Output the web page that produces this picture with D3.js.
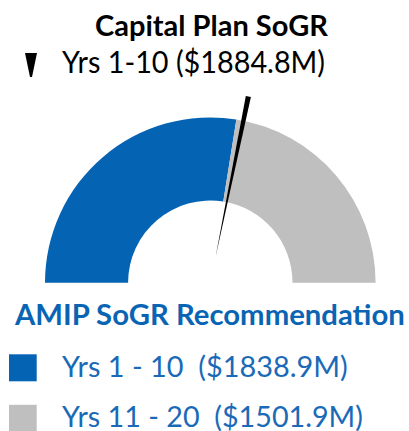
<!doctype html>
<html>
<head>
<script src="https://d3js.org/d3.v7.min.js"></script>
<style>
  body { margin: 0; background: #fff; }
  text { font-family: Lato, "Open Sans", sans-serif; white-space: pre; }
</style>
</head>
<body>
<script>
  // data
  var segLabels = ["Yrs 1 - 10  ($1838.9M)", "Yrs 11 - 20  ($1501.9M)"];
  var segValues = [1838.9, 1501.9];
  var segColors = ["#0563b4", "#bfbfbf"];
  var needleValue = 1884.8;
  var needleLabel = "Yrs 1-10 ($1884.8M)";
  var title = "Capital Plan SoGR";
  var legendTitle = "AMIP SoGR Recommendation";

  var width = 409, height = 431;
  var cx = 210.3, cy = 282.7;
  var rOuter = 165.3, rInner = 82.2;

  var svg = d3.select("body").append("svg")
      .attr("width", width)
      .attr("height", height);

  // squeeze text to the width seen in the picture (narrow font look)
  function fit(sel, target) {
    sel.each(function() {
      var w = this.getComputedTextLength();
      if (w > target) {
        d3.select(this).attr("textLength", target).attr("lengthAdjust", "spacingAndGlyphs");
      } else {
        var fs = parseFloat(d3.select(this).attr("font-size"));
        d3.select(this).attr("font-size", fs * target / w);
      }
    });
    return sel;
  }

  var total = d3.sum(segValues);
  var pie = d3.pie().sort(null)
      .startAngle(-Math.PI / 2).endAngle(Math.PI / 2);
  var arc = d3.arc().innerRadius(rInner).outerRadius(rOuter);

  var g = svg.append("g").attr("transform", "translate(" + cx + "," + cy + ")");
  g.selectAll("path.seg")
    .data(pie(segValues))
    .enter().append("path")
      .attr("class", "seg")
      .attr("d", arc)
      .attr("fill", function(d, i) { return segColors[i]; });

  // needle
  var angle = d3.scaleLinear().domain([0, total]).range([-90, 90]);
  g.append("path")
    .attr("d", "M0,-26 L2.6,-190 L-2.6,-190 Z")
    .attr("fill", "#000")
    .attr("transform", "rotate(" + angle(needleValue) + ")");

  // titles
  fit(svg.append("text")
    .attr("x", 95).attr("y", 35.5)
    .attr("font-size", 25).attr("font-weight", "bold")
    .attr("fill", "#000")
    .text(title), 233);

  svg.append("path")
    .attr("d", "M25,53 L37,53 L32,77 L30,77 Z")
    .attr("fill", "#000");

  fit(svg.append("text")
    .attr("x", 62).attr("y", 72.5)
    .attr("font-size", 30)
    .attr("fill", "#000")
    .text(needleLabel), 263);

  fit(svg.append("text")
    .attr("x", 15).attr("y", 324.5)
    .attr("font-size", 24.5).attr("font-weight", "bold")
    .attr("fill", "#0a64b4")
    .text(legendTitle), 390);

  // legend
  var leg = svg.selectAll("g.leg")
    .data(segLabels)
    .enter().append("g")
      .attr("class", "leg")
      .attr("transform", function(d, i) { return "translate(0," + (i * 50.5) + ")"; });

  leg.append("rect")
    .attr("x", 9).attr("y", 354.3)
    .attr("width", 27.7).attr("height", 27)
    .attr("fill", function(d, i) { return segColors[i]; });

  leg.append("text")
    .attr("x", 62).attr("y", 376.5)
    .attr("font-size", 28)
    .attr("fill", "#1a6ab7")
    .text(function(d) { return d; });

  var legWidths = [286, 301];
  leg.select("text").each(function(d, i) {
    fit(d3.select(this), legWidths[i]);
  });
</script>
</body>
</html>
